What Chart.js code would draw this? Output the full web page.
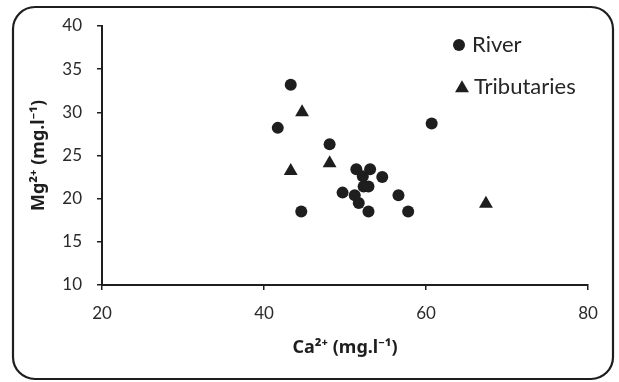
<!DOCTYPE html>
<html><head><meta charset="utf-8">
<script src="https://cdn.jsdelivr.net/npm/chart.js@4"></script>
<style>html,body{margin:0;padding:0;background:#fff}#wrap{width:619px;height:382px}</style>
</head><body><div id="wrap"><canvas id="c" width="619" height="382"></canvas></div>
<script>
// River samples
const riverCa = [43.3, 41.7, 60.7, 48.1, 51.4, 53.1, 52.2, 54.6, 52.3, 52.9, 49.7, 51.2, 51.7, 56.6, 44.6, 52.9, 57.8];
const riverMg = [33.2, 28.2, 28.7, 26.3, 23.4, 23.4, 22.6, 22.5, 21.4, 21.4, 20.7, 20.4, 19.5, 20.4, 18.5, 18.5, 18.5];
// Tributaries
const tribCa = [44.7, 43.3, 48.1, 67.4];
const tribMg = [30.0, 23.2, 24.1, 19.4];
// Axis ranges / ticks
const xRange = [20, 80], xStep = 20;
const yRange = [10, 40], yStep = 5;
const seriesNames = ['River', 'Tributaries'];
const xTitle = 'Ca²⁺ (mg.l⁻¹)';
const yTitle = 'Mg²⁺ (mg.l⁻¹)';

const FONT = "Lato, 'Noto Sans', sans-serif";
const TFONT = "'Noto Sans', Lato, sans-serif";
const INK = '#1e1e1e';

const toPts = (xs, ys) => xs.map((x, i) => ({x, y: ys[i]}));

const decor = {
  id: 'decor',
  afterDraw(chart) {
    const ctx = chart.ctx;
    ctx.save();
    // rounded frame
    ctx.strokeStyle = INK;
    ctx.lineWidth = 2.2;
    ctx.beginPath();
    ctx.roundRect(13, 7, 600, 372, 22);
    ctx.stroke();
    // legend
    ctx.fillStyle = INK;
    ctx.beginPath();
    ctx.arc(459, 45, 6, 0, Math.PI * 2);
    ctx.fill();
    const tx = 462, ty = 87, r = 8;
    ctx.beginPath();
    ctx.moveTo(tx, ty - r * 0.85);
    ctx.lineTo(tx + r * 0.87, ty + r * 0.65);
    ctx.lineTo(tx - r * 0.87, ty + r * 0.65);
    ctx.closePath();
    ctx.fill();
    ctx.fillStyle = '#262626';
    ctx.font = '22px ' + FONT;
    ctx.textBaseline = 'middle';
    ctx.textAlign = 'left';
    ctx.fillText(seriesNames[0], 472, 45);
    ctx.fillText(seriesNames[1], 474, 87);
    ctx.restore();
  }
};

new Chart(document.getElementById('c'), {
  type: 'scatter',
  data: {
    datasets: [
      {label: seriesNames[0], data: toPts(riverCa, riverMg), pointStyle: 'circle', pointRadius: 6, pointHoverRadius: 6, backgroundColor: INK, borderColor: INK, borderWidth: 0},
      {label: seriesNames[1], data: toPts(tribCa, tribMg), pointStyle: 'triangle', pointRadius: 8, pointHoverRadius: 8, backgroundColor: INK, borderColor: INK, borderWidth: 0}
    ]
  },
  options: {
    responsive: false,
    animation: false,
    events: [],
    layout: {padding: {top: 26, right: 31, left: 0, bottom: 0}},
    plugins: {legend: {display: false}, tooltip: {enabled: false}},
    scales: {
      x: {
        type: 'linear', min: xRange[0], max: xRange[1],
        ticks: {stepSize: xStep, color: '#2a2a2a', font: {family: FONT, size: 17}, padding: 13},
        grid: {display: true, drawOnChartArea: false, drawTicks: true, tickLength: 5, color: INK, lineWidth: 1.5},
        border: {display: true, color: INK, width: 2},
        title: {display: true, text: xTitle, color: INK, font: {family: TFONT, size: 18, weight: 'bold'}, padding: {top: 4, bottom: 23}},
        afterFit: s => { s.height = 97; }
      },
      y: {
        type: 'linear', min: yRange[0], max: yRange[1],
        ticks: {stepSize: yStep, color: '#2a2a2a', font: {family: FONT, size: 17}, padding: 15},
        grid: {display: true, drawOnChartArea: false, drawTicks: true, tickLength: 5, color: INK, lineWidth: 1.5},
        border: {display: true, color: INK, width: 2},
        title: {display: true, text: yTitle, color: INK, font: {family: TFONT, size: 18, weight: 'bold'}, padding: {top: 28, bottom: 4}},
        afterFit: s => { s.width = 102; }
      }
    }
  },
  plugins: [decor]
});
</script></body></html>
